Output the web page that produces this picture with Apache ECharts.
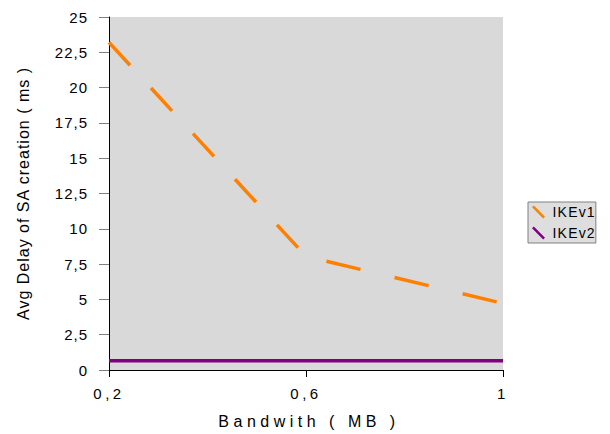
<!DOCTYPE html>
<html>
<head>
<meta charset="utf-8">
<script src="https://cdn.jsdelivr.net/npm/echarts@6/dist/echarts.min.js"></script>
<style>
html,body{margin:0;padding:0;background:#fff;}
#chart{width:610px;height:434px;}
</style>
</head>
<body>
<div id="chart"></div>
<script>
var categories = ['0,2', '0,6', '1'];
var ikev1 = [23.2, 8.05, 4.72];
var ikev2 = [0.65, 0.65, 0.65];
var seriesNames = ['IKEv1', 'IKEv2'];
var xTitle = 'Bandwith ( MB )';
var yTitle = 'Avg Delay of SA creation ( ms )';

var FONT = 'Liberation Sans, Arial, sans-serif';
var chart = echarts.init(document.getElementById('chart'), null, {renderer: 'svg'});
var diag = 'path://M0,1.4 L1.4,0 L10,8.6 L8.6,10 Z';
// IKEv1 drawn as two pieces (same data) so each piece keeps its own dash rhythm
var ikev1a = ikev1.map(function (v, i) { return i <= 1 ? v : null; });
var ikev1b = ikev1.map(function (v, i) { return i >= 1 ? v : null; });
chart.setOption({
  animation: false,
  backgroundColor: '#ffffff',
  textStyle: {fontFamily: FONT},
  grid: {left: 109, right: 107, top: 17, bottom: 63, show: true, backgroundColor: '#D9D9D9', borderWidth: 0},
  legend: {
    orient: 'vertical', left: 528, top: 202, padding: [3, 6, 3, 4],
    itemWidth: 18, itemHeight: 13, itemGap: 7,
    backgroundColor: '#DEDEDE', borderColor: '#808080', borderWidth: 1,
    textStyle: {fontSize: 14, color: '#000', fontFamily: FONT},
    data: [{name: seriesNames[0], icon: diag}, {name: seriesNames[1], icon: diag}]
  },
  xAxis: {
    type: 'category', data: categories, boundaryGap: false,
    name: xTitle, nameLocation: 'middle', nameGap: 43,
    nameTextStyle: {fontSize: 16, color: '#000', fontFamily: FONT, padding: [0, 0, 0, 6]},
    axisLine: {lineStyle: {color: '#000', width: 1}},
    axisTick: {show: true, length: 7, alignWithLabel: true, lineStyle: {color: '#000'}},
    axisLabel: {fontSize: 15, color: '#000', margin: 16, fontFamily: FONT},
    splitLine: {show: false}
  },
  yAxis: {
    type: 'value', min: 0, max: 25, interval: 2.5,
    name: yTitle, nameLocation: 'middle', nameGap: 78,
    nameTextStyle: {fontSize: 16, color: '#000', fontFamily: FONT},
    axisLine: {show: true, lineStyle: {color: '#000', width: 1}},
    axisTick: {show: true, length: 10, lineStyle: {color: '#808080'}},
    axisLabel: {fontSize: 15, color: '#000', margin: 21, fontFamily: FONT,
      formatter: function (v) { return String(v).replace('.', ','); }},
    splitLine: {show: false}
  },
  series: [
    {name: seriesNames[0], type: 'line', data: ikev1a, symbol: 'none',
      itemStyle: {color: '#FF7F00'},
      lineStyle: {color: '#FF7F00', width: 3.5, type: [31, 31], cap: 'butt'}},
    {name: seriesNames[0], type: 'line', data: ikev1b, symbol: 'none',
      itemStyle: {color: '#FF7F00'},
      lineStyle: {color: '#FF7F00', width: 3.5, type: [35, 35], dashOffset: 48.7, cap: 'butt'}},
    {name: seriesNames[1], type: 'line', data: ikev2, symbol: 'none',
      itemStyle: {color: '#800080'},
      lineStyle: {color: '#800080', width: 3.5}}
  ]
});

function spacing() {
  var texts = document.querySelectorAll('#chart svg text');
  texts.forEach(function (t) {
    var s = t.textContent;
    var ls = 0;
    if (s === yTitle) ls = 1;
    else if (s === xTitle) ls = 4.5;
    else if (seriesNames.indexOf(s) >= 0) ls = 1.2;
    else if (categories.indexOf(s) >= 0) ls = 3.5;
    else ls = 1;
    t.style.letterSpacing = ls + 'px';
  });
}
spacing();
chart.on('finished', spacing);
setTimeout(spacing, 50);
</script>
</body>
</html>
